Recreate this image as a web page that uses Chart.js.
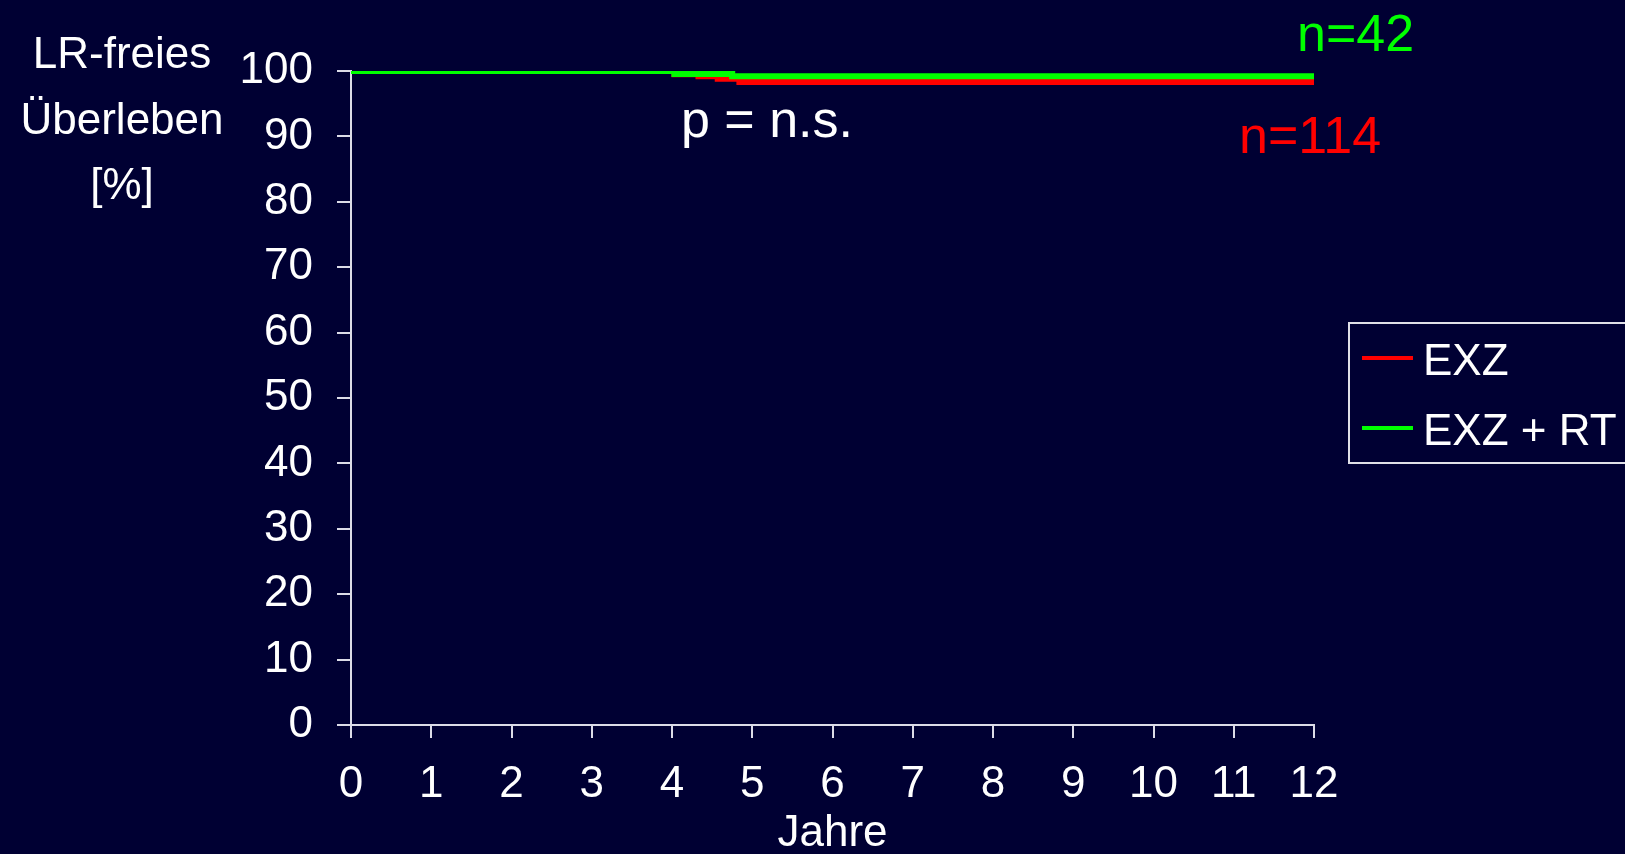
<!DOCTYPE html>
<html>
<head>
<meta charset="utf-8">
<script src="https://cdn.jsdelivr.net/npm/chart.js@4"></script>
<style>
  html, body { margin: 0; padding: 0; background: #000033; }
  #wrap { width: 1625px; height: 854px; position: relative; }
</style>
</head>
<body>
<div id="wrap"><canvas id="c" width="1625" height="854"></canvas></div>
<script>
// Kaplan-Meier step data (years, % local-recurrence-free survival)
const exzTimes    = [0, 4.03, 4.33, 4.57, 4.84, 12];
const exzSurvival = [100, 99.5, 99.2, 98.8, 98.3, 98.3];
const rtTimes     = [0, 4.03, 4.75, 12];
const rtSurvival  = [100, 99.55, 99.2, 99.2];

const seriesLabels = ['EXZ', 'EXZ + RT'];
const seriesColors = ['#ff0000', '#00ff00'];
const yTitleLines  = ['LR-freies', 'Überleben', '[%]'];
const xTitle       = 'Jahre';
const nLabels      = ['n=114', 'n=42'];
const pLabel       = 'p = n.s.';

const xMin = 0, xMax = 12, xStep = 1;
const yMin = 0, yMax = 100, yStep = 10;

const FONT = '"Liberation Sans", Arial, sans-serif';
const AXIS = '#dcdce8';

const toPoints = (ts, vs) => ts.map((t, i) => ({ x: t, y: vs[i] }));

const overlay = {
  id: 'overlay',
  afterDraw(chart) {
    const ctx = chart.ctx;
    ctx.save();
    ctx.fillStyle = '#ffffff';
    ctx.textAlign = 'center';
    ctx.textBaseline = 'middle';
    ctx.font = '44px ' + FONT;
    const titleY = [56, 122, 187];
    yTitleLines.forEach((t, i) => ctx.fillText(t, 122, titleY[i]));

    // p value
    ctx.font = '52px ' + FONT;
    ctx.textAlign = 'left';
    ctx.fillText(pLabel, 681, 123);

    // n labels
    ctx.fillStyle = seriesColors[1];
    ctx.fillText(nLabels[1], 1297, 37);
    ctx.fillStyle = seriesColors[0];
    ctx.fillText(nLabels[0], 1239, 139);

    // legend
    ctx.strokeStyle = '#e0e0e8';
    ctx.lineWidth = 2;
    ctx.strokeRect(1349, 323, 300, 140);
    ctx.font = '44px ' + FONT;
    const ly = [358, 428];
    chart.data.datasets.forEach((ds, i) => {
      ctx.strokeStyle = ds.borderColor;
      ctx.lineWidth = 4;
      ctx.beginPath();
      ctx.moveTo(1362, ly[i]);
      ctx.lineTo(1413, ly[i]);
      ctx.stroke();
      ctx.fillStyle = '#ffffff';
      ctx.textAlign = 'left';
      ctx.fillText(ds.label, 1423, ly[i] + 5);
    });
    ctx.restore();
  }
};

new Chart(document.getElementById('c'), {
  type: 'line',
  data: {
    datasets: [
      {
        label: seriesLabels[0],
        data: toPoints(exzTimes, exzSurvival),
        borderColor: seriesColors[0],
        backgroundColor: seriesColors[0],
        borderWidth: 6,
        stepped: true,
        pointRadius: 0,
        fill: false,
        order: 1
      },
      {
        label: seriesLabels[1],
        data: toPoints(rtTimes, rtSurvival),
        borderColor: seriesColors[1],
        backgroundColor: seriesColors[1],
        borderWidth: 6,
        stepped: true,
        pointRadius: 0,
        fill: false,
        order: 0
      }
    ]
  },
  options: {
    responsive: false,
    animation: false,
    layout: { padding: { left: 0, right: 311, top: 71, bottom: 0 } },
    plugins: {
      legend: { display: false },
      tooltip: { enabled: false }
    },
    scales: {
      x: {
        type: 'linear',
        min: xMin, max: xMax,
        afterFit(s) { s.height = 129; },
        ticks: { stepSize: xStep, color: '#ffffff', font: { family: FONT, size: 44 }, padding: 20, maxRotation: 0, autoSkip: false },
        grid: { drawOnChartArea: false, color: AXIS, tickLength: 13, lineWidth: 2 },
        border: { color: AXIS, width: 2 },
        title: { display: true, text: xTitle, color: '#ffffff', font: { family: FONT, size: 44, lineHeight: 0.9 }, padding: { top: 0, bottom: 0 } }
      },
      y: {
        min: yMin, max: yMax,
        afterFit(s) { s.width = 351; },
        ticks: { stepSize: yStep, color: '#ffffff', font: { family: FONT, size: 44 }, padding: 24 },
        grid: { drawOnChartArea: false, color: AXIS, tickLength: 14, lineWidth: 2 },
        border: { color: AXIS, width: 2 }
      }
    }
  },
  plugins: [overlay]
});
</script>
</body>
</html>
